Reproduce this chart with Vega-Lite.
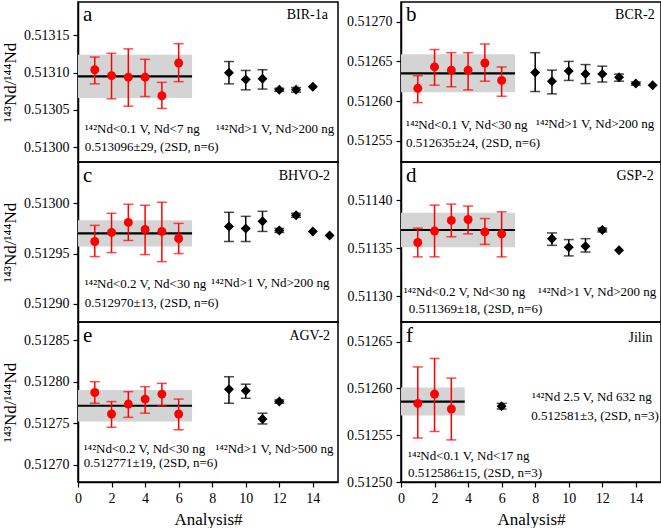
{
  "$schema": "https://vega.github.io/schema/vega-lite/v6.json",
  "padding": {"left": 0, "top": 1, "right": 1, "bottom": 2},
  "autosize": {"type": "pad"},
  "bounds": "flush",
  "columns": 2,
  "spacing": {"row": 0, "column": 63},
  "datasets": {
    "pts": [
      {"panel": "a", "group": "low", "analysis": 1, "value": 0.513104, "lo": 0.513085, "hi": 0.513121},
      {"panel": "a", "group": "low", "analysis": 2, "value": 0.513096, "lo": 0.513065, "hi": 0.513126},
      {"panel": "a", "group": "low", "analysis": 3, "value": 0.513094, "lo": 0.513055, "hi": 0.513132},
      {"panel": "a", "group": "low", "analysis": 4, "value": 0.513094, "lo": 0.513068, "hi": 0.513118},
      {"panel": "a", "group": "low", "analysis": 5, "value": 0.513069, "lo": 0.513052, "hi": 0.513087},
      {"panel": "a", "group": "low", "analysis": 6, "value": 0.513113, "lo": 0.513088, "hi": 0.513139},
      {"panel": "a", "group": "high", "analysis": 9, "value": 0.5131, "lo": 0.513085, "hi": 0.513115},
      {"panel": "a", "group": "high", "analysis": 10, "value": 0.513091, "lo": 0.513077, "hi": 0.513103},
      {"panel": "a", "group": "high", "analysis": 11, "value": 0.513092, "lo": 0.513078, "hi": 0.513104},
      {"panel": "a", "group": "high", "analysis": 12, "value": 0.513077, "lo": 0.513075, "hi": 0.513079},
      {"panel": "a", "group": "high", "analysis": 13, "value": 0.513077, "lo": 0.513074, "hi": 0.51308},
      {"panel": "a", "group": "high", "analysis": 14, "value": 0.513081, "lo": null, "hi": null},
      {"panel": "b", "group": "low", "analysis": 1, "value": 0.512616, "lo": 0.512598, "hi": 0.512632},
      {"panel": "b", "group": "low", "analysis": 2, "value": 0.512643, "lo": 0.51262, "hi": 0.512665},
      {"panel": "b", "group": "low", "analysis": 3, "value": 0.512639, "lo": 0.512618, "hi": 0.512661},
      {"panel": "b", "group": "low", "analysis": 4, "value": 0.512639, "lo": 0.512614, "hi": 0.512661},
      {"panel": "b", "group": "low", "analysis": 5, "value": 0.512648, "lo": 0.512625, "hi": 0.512672},
      {"panel": "b", "group": "low", "analysis": 6, "value": 0.512626, "lo": 0.512606, "hi": 0.512643},
      {"panel": "b", "group": "high", "analysis": 8, "value": 0.512636, "lo": 0.512612, "hi": 0.512661},
      {"panel": "b", "group": "high", "analysis": 9, "value": 0.512625, "lo": 0.512609, "hi": 0.512639},
      {"panel": "b", "group": "high", "analysis": 10, "value": 0.512638, "lo": 0.512626, "hi": 0.51265},
      {"panel": "b", "group": "high", "analysis": 11, "value": 0.512634, "lo": 0.512622, "hi": 0.512646},
      {"panel": "b", "group": "high", "analysis": 12, "value": 0.512634, "lo": 0.512624, "hi": 0.512644},
      {"panel": "b", "group": "high", "analysis": 13, "value": 0.51263, "lo": 0.512625, "hi": 0.512634},
      {"panel": "b", "group": "high", "analysis": 14, "value": 0.512622, "lo": 0.51262, "hi": 0.512624},
      {"panel": "b", "group": "high", "analysis": 15, "value": 0.51262, "lo": null, "hi": null},
      {"panel": "c", "group": "low", "analysis": 1, "value": 0.512962, "lo": 0.512947, "hi": 0.512978},
      {"panel": "c", "group": "low", "analysis": 2, "value": 0.512971, "lo": 0.512951, "hi": 0.51299},
      {"panel": "c", "group": "low", "analysis": 3, "value": 0.512981, "lo": 0.512963, "hi": 0.512999},
      {"panel": "c", "group": "low", "analysis": 4, "value": 0.512974, "lo": 0.512949, "hi": 0.512998},
      {"panel": "c", "group": "low", "analysis": 5, "value": 0.512972, "lo": 0.512942, "hi": 0.513001},
      {"panel": "c", "group": "low", "analysis": 6, "value": 0.512965, "lo": 0.51295, "hi": 0.51298},
      {"panel": "c", "group": "high", "analysis": 9, "value": 0.512977, "lo": 0.512962, "hi": 0.512991},
      {"panel": "c", "group": "high", "analysis": 10, "value": 0.512975, "lo": 0.512962, "hi": 0.512987},
      {"panel": "c", "group": "high", "analysis": 11, "value": 0.512982, "lo": 0.512972, "hi": 0.512992},
      {"panel": "c", "group": "high", "analysis": 12, "value": 0.512973, "lo": 0.512971, "hi": 0.512975},
      {"panel": "c", "group": "high", "analysis": 13, "value": 0.512988, "lo": 0.512986, "hi": 0.51299},
      {"panel": "c", "group": "high", "analysis": 14, "value": 0.512972, "lo": null, "hi": null},
      {"panel": "c", "group": "high", "analysis": 15, "value": 0.512968, "lo": null, "hi": null},
      {"panel": "d", "group": "low", "analysis": 1, "value": 0.511356, "lo": 0.511341, "hi": 0.511371},
      {"panel": "d", "group": "low", "analysis": 2, "value": 0.511368, "lo": 0.511341, "hi": 0.511395},
      {"panel": "d", "group": "low", "analysis": 3, "value": 0.511379, "lo": 0.511362, "hi": 0.511396},
      {"panel": "d", "group": "low", "analysis": 4, "value": 0.51138, "lo": 0.511365, "hi": 0.511394},
      {"panel": "d", "group": "low", "analysis": 5, "value": 0.511367, "lo": 0.511354, "hi": 0.511381},
      {"panel": "d", "group": "low", "analysis": 6, "value": 0.511365, "lo": 0.511341, "hi": 0.511388},
      {"panel": "d", "group": "high", "analysis": 9, "value": 0.51136, "lo": 0.511353, "hi": 0.511366},
      {"panel": "d", "group": "high", "analysis": 10, "value": 0.511351, "lo": 0.511342, "hi": 0.511359},
      {"panel": "d", "group": "high", "analysis": 11, "value": 0.511352, "lo": 0.511346, "hi": 0.51136},
      {"panel": "d", "group": "high", "analysis": 12, "value": 0.511369, "lo": 0.511367, "hi": 0.511371},
      {"panel": "d", "group": "high", "analysis": 13, "value": 0.511348, "lo": null, "hi": null},
      {"panel": "e", "group": "low", "analysis": 1, "value": 0.512787, "lo": 0.512774, "hi": 0.5128},
      {"panel": "e", "group": "low", "analysis": 2, "value": 0.512761, "lo": 0.512745, "hi": 0.512776},
      {"panel": "e", "group": "low", "analysis": 3, "value": 0.512773, "lo": 0.512757, "hi": 0.512788},
      {"panel": "e", "group": "low", "analysis": 4, "value": 0.512779, "lo": 0.512762, "hi": 0.512794},
      {"panel": "e", "group": "low", "analysis": 5, "value": 0.512785, "lo": 0.512771, "hi": 0.512798},
      {"panel": "e", "group": "low", "analysis": 6, "value": 0.512761, "lo": 0.512742, "hi": 0.512779},
      {"panel": "e", "group": "high", "analysis": 9, "value": 0.512791, "lo": 0.512774, "hi": 0.512806},
      {"panel": "e", "group": "high", "analysis": 10, "value": 0.512789, "lo": 0.51278, "hi": 0.512797},
      {"panel": "e", "group": "high", "analysis": 11, "value": 0.512755, "lo": 0.512749, "hi": 0.512762},
      {"panel": "e", "group": "high", "analysis": 12, "value": 0.512776, "lo": 0.512774, "hi": 0.512778},
      {"panel": "f", "group": "low", "analysis": 1, "value": 0.512584, "lo": 0.512547, "hi": 0.512623},
      {"panel": "f", "group": "low", "analysis": 2, "value": 0.512594, "lo": 0.512554, "hi": 0.512632},
      {"panel": "f", "group": "low", "analysis": 3, "value": 0.512578, "lo": 0.512545, "hi": 0.512611},
      {"panel": "f", "group": "high", "analysis": 6, "value": 0.512581, "lo": 0.512578, "hi": 0.512584}
    ],
    "stats": [
      {"panel": "a", "x0": 0, "x1": 6.8, "mean": 0.513095, "lo": 0.513066, "hi": 0.513124},
      {"panel": "b", "x0": 0, "x1": 6.8, "mean": 0.512635, "lo": 0.512611, "hi": 0.512659},
      {"panel": "c", "x0": 0, "x1": 6.8, "mean": 0.51297, "lo": 0.512957, "hi": 0.512983},
      {"panel": "d", "x0": 0, "x1": 6.8, "mean": 0.511369, "lo": 0.511351, "hi": 0.511387},
      {"panel": "e", "x0": 0, "x1": 6.8, "mean": 0.512771, "lo": 0.512752, "hi": 0.51279},
      {"panel": "f", "x0": 0, "x1": 3.8, "mean": 0.512586, "lo": 0.512571, "hi": 0.512601}
    ]
  },
  "concat": [
    {
      "width": 260, "height": 160,
      "layer": [
        {"data": {"name": "stats"}, "transform": [{"filter": "datum.panel == 'a'"}],
         "mark": {"type": "rect", "color": "#d4d4d4"},
         "encoding": {
           "x": {"field": "x0", "type": "quantitative", "scale": {"domain": [0, 15.5], "nice": false, "zero": false}, "axis": null},
           "x2": {"field": "x1"},
           "y": {"field": "lo", "type": "quantitative", "title": "¹⁴³Nd/¹⁴⁴Nd", "scale": {"domain": [0.51298, 0.513195], "nice": false, "zero": false}, "axis": {"values": [0.513, 0.51305, 0.5131, 0.51315], "format": ".5f"}},
           "y2": {"field": "hi"}}},
        {"data": {"name": "stats"}, "transform": [{"filter": "datum.panel == 'a'"}],
         "mark": {"type": "rule", "color": "black", "strokeWidth": 2.2},
         "encoding": {"x": {"field": "x0", "type": "quantitative"}, "x2": {"field": "x1"}, "y": {"field": "mean", "type": "quantitative", "title": "¹⁴³Nd/¹⁴⁴Nd"}}},
        {"data": {"name": "pts"}, "transform": [{"filter": "datum.panel == 'a' && datum.group == 'low'"}],
         "mark": {"type": "errorbar", "color": "red", "thickness": 1.5, "ticks": {"size": 10}},
         "encoding": {"x": {"field": "analysis", "type": "quantitative"}, "y": {"field": "lo", "type": "quantitative", "title": "¹⁴³Nd/¹⁴⁴Nd"}, "y2": {"field": "hi"}}},
        {"data": {"name": "pts"}, "transform": [{"filter": "datum.panel == 'a' && datum.group == 'low'"}],
         "mark": {"type": "point", "shape": "circle", "filled": true, "color": "red", "size": 80, "opacity": 1},
         "encoding": {"x": {"field": "analysis", "type": "quantitative"}, "y": {"field": "value", "type": "quantitative", "title": "¹⁴³Nd/¹⁴⁴Nd"}}},
        {"data": {"name": "pts"}, "transform": [{"filter": "datum.panel == 'a' && datum.group == 'high' && isValid(datum.lo)"}],
         "mark": {"type": "errorbar", "color": "black", "thickness": 1.5, "ticks": {"size": 10}},
         "encoding": {"x": {"field": "analysis", "type": "quantitative"}, "y": {"field": "lo", "type": "quantitative", "title": "¹⁴³Nd/¹⁴⁴Nd"}, "y2": {"field": "hi"}}},
        {"data": {"name": "pts"}, "transform": [{"filter": "datum.panel == 'a' && datum.group == 'high'"}],
         "mark": {"type": "point", "shape": "diamond", "filled": true, "color": "black", "size": 100, "opacity": 1},
         "encoding": {"x": {"field": "analysis", "type": "quantitative"}, "y": {"field": "value", "type": "quantitative", "title": "¹⁴³Nd/¹⁴⁴Nd"}}},
        {"data": {"values": [{}]}, "mark": {"type": "text", "align": "left", "baseline": "middle", "fontSize": 21},
         "encoding": {"x": {"datum": 0.3}, "y": {"datum": 0.5131775}, "text": {"value": "a"}}},
        {"data": {"values": [{}]}, "mark": {"type": "text", "align": "right", "baseline": "middle", "fontSize": 14},
         "encoding": {"x": {"datum": 14.9}, "y": {"datum": 0.5131775}, "text": {"value": "BIR-1a"}}},
        {"data": {"values": [{}]}, "mark": {"type": "text", "align": "left", "baseline": "middle", "fontSize": 13},
         "encoding": {"x": {"datum": 0.4}, "y": {"datum": 0.513025}, "text": {"value": "¹⁴²Nd<0.1 V, Nd<7 ng"}}},
        {"data": {"values": [{}]}, "mark": {"type": "text", "align": "left", "baseline": "middle", "fontSize": 13},
         "encoding": {"x": {"datum": 0.4}, "y": {"datum": 0.5130006}, "text": {"value": "0.513096±29, (2SD, n=6)"}}},
        {"data": {"values": [{}]}, "mark": {"type": "text", "align": "left", "baseline": "middle", "fontSize": 13},
         "encoding": {"x": {"datum": 8.23}, "y": {"datum": 0.513025}, "text": {"value": "¹⁴²Nd>1 V, Nd>200 ng"}}}
      ]
    },
    {
      "width": 260, "height": 160,
      "layer": [
        {"data": {"name": "stats"}, "transform": [{"filter": "datum.panel == 'b'"}],
         "mark": {"type": "rect", "color": "#d4d4d4"},
         "encoding": {
           "x": {"field": "x0", "type": "quantitative", "scale": {"domain": [0, 15.5], "nice": false, "zero": false}, "axis": null},
           "x2": {"field": "x1"},
           "y": {"field": "lo", "type": "quantitative", "scale": {"domain": [0.512523, 0.512725], "nice": false, "zero": false}, "axis": {"values": [0.51255, 0.5126, 0.51265, 0.5127], "format": ".5f", "title": null}},
           "y2": {"field": "hi"}}},
        {"data": {"name": "stats"}, "transform": [{"filter": "datum.panel == 'b'"}],
         "mark": {"type": "rule", "color": "black", "strokeWidth": 2.2},
         "encoding": {"x": {"field": "x0", "type": "quantitative"}, "x2": {"field": "x1"}, "y": {"field": "mean", "type": "quantitative"}}},
        {"data": {"name": "pts"}, "transform": [{"filter": "datum.panel == 'b' && datum.group == 'low'"}],
         "mark": {"type": "errorbar", "color": "red", "thickness": 1.5, "ticks": {"size": 10}},
         "encoding": {"x": {"field": "analysis", "type": "quantitative"}, "y": {"field": "lo", "type": "quantitative"}, "y2": {"field": "hi"}}},
        {"data": {"name": "pts"}, "transform": [{"filter": "datum.panel == 'b' && datum.group == 'low'"}],
         "mark": {"type": "point", "shape": "circle", "filled": true, "color": "red", "size": 80, "opacity": 1},
         "encoding": {"x": {"field": "analysis", "type": "quantitative"}, "y": {"field": "value", "type": "quantitative"}}},
        {"data": {"name": "pts"}, "transform": [{"filter": "datum.panel == 'b' && datum.group == 'high' && isValid(datum.lo)"}],
         "mark": {"type": "errorbar", "color": "black", "thickness": 1.5, "ticks": {"size": 10}},
         "encoding": {"x": {"field": "analysis", "type": "quantitative"}, "y": {"field": "lo", "type": "quantitative"}, "y2": {"field": "hi"}}},
        {"data": {"name": "pts"}, "transform": [{"filter": "datum.panel == 'b' && datum.group == 'high'"}],
         "mark": {"type": "point", "shape": "diamond", "filled": true, "color": "black", "size": 100, "opacity": 1},
         "encoding": {"x": {"field": "analysis", "type": "quantitative"}, "y": {"field": "value", "type": "quantitative"}}},
        {"data": {"values": [{}]}, "mark": {"type": "text", "align": "left", "baseline": "middle", "fontSize": 21},
         "encoding": {"x": {"datum": 0.3}, "y": {"datum": 0.5127086}, "text": {"value": "b"}}},
        {"data": {"values": [{}]}, "mark": {"type": "text", "align": "right", "baseline": "middle", "fontSize": 14},
         "encoding": {"x": {"datum": 15.13}, "y": {"datum": 0.5127086}, "text": {"value": "BCR-2"}}},
        {"data": {"values": [{}]}, "mark": {"type": "text", "align": "left", "baseline": "middle", "fontSize": 13},
         "encoding": {"x": {"datum": 0.3}, "y": {"datum": 0.5125695}, "text": {"value": "¹⁴²Nd<0.1 V, Nd<30 ng"}}},
        {"data": {"values": [{}]}, "mark": {"type": "text", "align": "left", "baseline": "middle", "fontSize": 13},
         "encoding": {"x": {"datum": 0.3}, "y": {"datum": 0.5125466}, "text": {"value": "0.512635±24, (2SD, n=6)"}}},
        {"data": {"values": [{}]}, "mark": {"type": "text", "align": "left", "baseline": "middle", "fontSize": 13},
         "encoding": {"x": {"datum": 8.05}, "y": {"datum": 0.5125705}, "text": {"value": "¹⁴²Nd>1 V, Nd>200 ng"}}}
      ]
    },
    {
      "width": 260, "height": 160,
      "layer": [
        {"data": {"name": "stats"}, "transform": [{"filter": "datum.panel == 'c'"}],
         "mark": {"type": "rect", "color": "#d4d4d4"},
         "encoding": {
           "x": {"field": "x0", "type": "quantitative", "scale": {"domain": [0, 15.5], "nice": false, "zero": false}, "axis": null},
           "x2": {"field": "x1"},
           "y": {"field": "lo", "type": "quantitative", "title": "¹⁴³Nd/¹⁴⁴Nd", "scale": {"domain": [0.512882, 0.513041], "nice": false, "zero": false}, "axis": {"values": [0.5129, 0.51295, 0.513], "format": ".5f"}},
           "y2": {"field": "hi"}}},
        {"data": {"name": "stats"}, "transform": [{"filter": "datum.panel == 'c'"}],
         "mark": {"type": "rule", "color": "black", "strokeWidth": 2.2},
         "encoding": {"x": {"field": "x0", "type": "quantitative"}, "x2": {"field": "x1"}, "y": {"field": "mean", "type": "quantitative", "title": "¹⁴³Nd/¹⁴⁴Nd"}}},
        {"data": {"name": "pts"}, "transform": [{"filter": "datum.panel == 'c' && datum.group == 'low'"}],
         "mark": {"type": "errorbar", "color": "red", "thickness": 1.5, "ticks": {"size": 10}},
         "encoding": {"x": {"field": "analysis", "type": "quantitative"}, "y": {"field": "lo", "type": "quantitative", "title": "¹⁴³Nd/¹⁴⁴Nd"}, "y2": {"field": "hi"}}},
        {"data": {"name": "pts"}, "transform": [{"filter": "datum.panel == 'c' && datum.group == 'low'"}],
         "mark": {"type": "point", "shape": "circle", "filled": true, "color": "red", "size": 80, "opacity": 1},
         "encoding": {"x": {"field": "analysis", "type": "quantitative"}, "y": {"field": "value", "type": "quantitative", "title": "¹⁴³Nd/¹⁴⁴Nd"}}},
        {"data": {"name": "pts"}, "transform": [{"filter": "datum.panel == 'c' && datum.group == 'high' && isValid(datum.lo)"}],
         "mark": {"type": "errorbar", "color": "black", "thickness": 1.5, "ticks": {"size": 10}},
         "encoding": {"x": {"field": "analysis", "type": "quantitative"}, "y": {"field": "lo", "type": "quantitative", "title": "¹⁴³Nd/¹⁴⁴Nd"}, "y2": {"field": "hi"}}},
        {"data": {"name": "pts"}, "transform": [{"filter": "datum.panel == 'c' && datum.group == 'high'"}],
         "mark": {"type": "point", "shape": "diamond", "filled": true, "color": "black", "size": 100, "opacity": 1},
         "encoding": {"x": {"field": "analysis", "type": "quantitative"}, "y": {"field": "value", "type": "quantitative", "title": "¹⁴³Nd/¹⁴⁴Nd"}}},
        {"data": {"values": [{}]}, "mark": {"type": "text", "align": "left", "baseline": "middle", "fontSize": 21},
         "encoding": {"x": {"datum": 0.3}, "y": {"datum": 0.5130271}, "text": {"value": "c"}}},
        {"data": {"values": [{}]}, "mark": {"type": "text", "align": "right", "baseline": "middle", "fontSize": 14},
         "encoding": {"x": {"datum": 15.03}, "y": {"datum": 0.5130271}, "text": {"value": "BHVO-2"}}},
        {"data": {"values": [{}]}, "mark": {"type": "text", "align": "left", "baseline": "middle", "fontSize": 13},
         "encoding": {"x": {"datum": 0.4}, "y": {"datum": 0.5129195}, "text": {"value": "¹⁴²Nd<0.2 V, Nd<30 ng"}}},
        {"data": {"values": [{}]}, "mark": {"type": "text", "align": "left", "baseline": "middle", "fontSize": 13},
         "encoding": {"x": {"datum": 0.4}, "y": {"datum": 0.5129012}, "text": {"value": "0.512970±13, (2SD, n=6)"}}},
        {"data": {"values": [{}]}, "mark": {"type": "text", "align": "left", "baseline": "middle", "fontSize": 13},
         "encoding": {"x": {"datum": 7.95}, "y": {"datum": 0.5129205}, "text": {"value": "¹⁴²Nd>1 V, Nd>200 ng"}}}
      ]
    },
    {
      "width": 260, "height": 160,
      "layer": [
        {"data": {"name": "stats"}, "transform": [{"filter": "datum.panel == 'd'"}],
         "mark": {"type": "rect", "color": "#d4d4d4"},
         "encoding": {
           "x": {"field": "x0", "type": "quantitative", "scale": {"domain": [0, 15.5], "nice": false, "zero": false}, "axis": null},
           "x2": {"field": "x1"},
           "y": {"field": "lo", "type": "quantitative", "scale": {"domain": [0.511273, 0.51144], "nice": false, "zero": false}, "axis": {"values": [0.5113, 0.51135, 0.5114], "format": ".5f", "title": null}},
           "y2": {"field": "hi"}}},
        {"data": {"name": "stats"}, "transform": [{"filter": "datum.panel == 'd'"}],
         "mark": {"type": "rule", "color": "black", "strokeWidth": 2.2},
         "encoding": {"x": {"field": "x0", "type": "quantitative"}, "x2": {"field": "x1"}, "y": {"field": "mean", "type": "quantitative"}}},
        {"data": {"name": "pts"}, "transform": [{"filter": "datum.panel == 'd' && datum.group == 'low'"}],
         "mark": {"type": "errorbar", "color": "red", "thickness": 1.5, "ticks": {"size": 10}},
         "encoding": {"x": {"field": "analysis", "type": "quantitative"}, "y": {"field": "lo", "type": "quantitative"}, "y2": {"field": "hi"}}},
        {"data": {"name": "pts"}, "transform": [{"filter": "datum.panel == 'd' && datum.group == 'low'"}],
         "mark": {"type": "point", "shape": "circle", "filled": true, "color": "red", "size": 80, "opacity": 1},
         "encoding": {"x": {"field": "analysis", "type": "quantitative"}, "y": {"field": "value", "type": "quantitative"}}},
        {"data": {"name": "pts"}, "transform": [{"filter": "datum.panel == 'd' && datum.group == 'high' && isValid(datum.lo)"}],
         "mark": {"type": "errorbar", "color": "black", "thickness": 1.5, "ticks": {"size": 10}},
         "encoding": {"x": {"field": "analysis", "type": "quantitative"}, "y": {"field": "lo", "type": "quantitative"}, "y2": {"field": "hi"}}},
        {"data": {"name": "pts"}, "transform": [{"filter": "datum.panel == 'd' && datum.group == 'high'"}],
         "mark": {"type": "point", "shape": "diamond", "filled": true, "color": "black", "size": 100, "opacity": 1},
         "encoding": {"x": {"field": "analysis", "type": "quantitative"}, "y": {"field": "value", "type": "quantitative"}}},
        {"data": {"values": [{}]}, "mark": {"type": "text", "align": "left", "baseline": "middle", "fontSize": 21},
         "encoding": {"x": {"datum": 0.3}, "y": {"datum": 0.5114254}, "text": {"value": "d"}}},
        {"data": {"values": [{}]}, "mark": {"type": "text", "align": "right", "baseline": "middle", "fontSize": 14},
         "encoding": {"x": {"datum": 15.07}, "y": {"datum": 0.5114254}, "text": {"value": "GSP-2"}}},
        {"data": {"values": [{}]}, "mark": {"type": "text", "align": "left", "baseline": "middle", "fontSize": 13},
         "encoding": {"x": {"datum": 0.16}, "y": {"datum": 0.5113043}, "text": {"value": "¹⁴²Nd<0.2 V, Nd<30 ng"}}},
        {"data": {"values": [{}]}, "mark": {"type": "text", "align": "left", "baseline": "middle", "fontSize": 13},
         "encoding": {"x": {"datum": 0.46}, "y": {"datum": 0.5112863}, "text": {"value": "0.511369±18, (2SD, n=6)"}}},
        {"data": {"values": [{}]}, "mark": {"type": "text", "align": "left", "baseline": "middle", "fontSize": 13},
         "encoding": {"x": {"datum": 8.17}, "y": {"datum": 0.5113043}, "text": {"value": "¹⁴²Nd>1 V, Nd>200 ng"}}}
      ]
    },
    {
      "width": 260, "height": 160,
      "layer": [
        {"data": {"name": "stats"}, "transform": [{"filter": "datum.panel == 'e'"}],
         "mark": {"type": "rect", "color": "#d4d4d4"},
         "encoding": {
           "x": {"field": "x0", "type": "quantitative", "title": "Analysis#", "scale": {"domain": [0, 15.5], "nice": false, "zero": false}, "axis": {"values": [0, 2, 4, 6, 8, 10, 12, 14], "tickCount": 8, "labelOverlap": false, "labelFlush": false, "labelBound": false, "labelFontSize": 14}},
           "x2": {"field": "x1"},
           "y": {"field": "lo", "type": "quantitative", "title": "¹⁴³Nd/¹⁴⁴Nd", "scale": {"domain": [0.512679, 0.512872], "nice": false, "zero": false}, "axis": {"values": [0.5127, 0.51275, 0.5128, 0.51285], "format": ".5f"}},
           "y2": {"field": "hi"}}},
        {"data": {"name": "stats"}, "transform": [{"filter": "datum.panel == 'e'"}],
         "mark": {"type": "rule", "color": "black", "strokeWidth": 2.2},
         "encoding": {"x": {"field": "x0", "type": "quantitative", "title": "Analysis#"}, "x2": {"field": "x1"}, "y": {"field": "mean", "type": "quantitative", "title": "¹⁴³Nd/¹⁴⁴Nd"}}},
        {"data": {"name": "pts"}, "transform": [{"filter": "datum.panel == 'e' && datum.group == 'low'"}],
         "mark": {"type": "errorbar", "color": "red", "thickness": 1.5, "ticks": {"size": 10}},
         "encoding": {"x": {"field": "analysis", "type": "quantitative", "title": "Analysis#"}, "y": {"field": "lo", "type": "quantitative", "title": "¹⁴³Nd/¹⁴⁴Nd"}, "y2": {"field": "hi"}}},
        {"data": {"name": "pts"}, "transform": [{"filter": "datum.panel == 'e' && datum.group == 'low'"}],
         "mark": {"type": "point", "shape": "circle", "filled": true, "color": "red", "size": 80, "opacity": 1},
         "encoding": {"x": {"field": "analysis", "type": "quantitative", "title": "Analysis#"}, "y": {"field": "value", "type": "quantitative", "title": "¹⁴³Nd/¹⁴⁴Nd"}}},
        {"data": {"name": "pts"}, "transform": [{"filter": "datum.panel == 'e' && datum.group == 'high' && isValid(datum.lo)"}],
         "mark": {"type": "errorbar", "color": "black", "thickness": 1.5, "ticks": {"size": 10}},
         "encoding": {"x": {"field": "analysis", "type": "quantitative", "title": "Analysis#"}, "y": {"field": "lo", "type": "quantitative", "title": "¹⁴³Nd/¹⁴⁴Nd"}, "y2": {"field": "hi"}}},
        {"data": {"name": "pts"}, "transform": [{"filter": "datum.panel == 'e' && datum.group == 'high'"}],
         "mark": {"type": "point", "shape": "diamond", "filled": true, "color": "black", "size": 100, "opacity": 1},
         "encoding": {"x": {"field": "analysis", "type": "quantitative", "title": "Analysis#"}, "y": {"field": "value", "type": "quantitative", "title": "¹⁴³Nd/¹⁴⁴Nd"}}},
        {"data": {"values": [{}]}, "mark": {"type": "text", "align": "left", "baseline": "middle", "fontSize": 21},
         "encoding": {"x": {"datum": 0.3, "title": "Analysis#"}, "y": {"datum": 0.5128551, "title": "¹⁴³Nd/¹⁴⁴Nd"}, "text": {"value": "e"}}},
        {"data": {"values": [{}]}, "mark": {"type": "text", "align": "right", "baseline": "middle", "fontSize": 14},
         "encoding": {"x": {"datum": 15.03, "title": "Analysis#"}, "y": {"datum": 0.5128551, "title": "¹⁴³Nd/¹⁴⁴Nd"}, "text": {"value": "AGV-2"}}},
        {"data": {"values": [{}]}, "mark": {"type": "text", "align": "left", "baseline": "middle", "fontSize": 13},
         "encoding": {"x": {"datum": 0.34, "title": "Analysis#"}, "y": {"datum": 0.5127184, "title": "¹⁴³Nd/¹⁴⁴Nd"}, "text": {"value": "¹⁴²Nd<0.2 V, Nd<30 ng"}}},
        {"data": {"values": [{}]}, "mark": {"type": "text", "align": "left", "baseline": "middle", "fontSize": 13},
         "encoding": {"x": {"datum": 0.34, "title": "Analysis#"}, "y": {"datum": 0.5127015, "title": "¹⁴³Nd/¹⁴⁴Nd"}, "text": {"value": "0.512771±19, (2SD, n=6)"}}},
        {"data": {"values": [{}]}, "mark": {"type": "text", "align": "left", "baseline": "middle", "fontSize": 13},
         "encoding": {"x": {"datum": 8.19, "title": "Analysis#"}, "y": {"datum": 0.5127184, "title": "¹⁴³Nd/¹⁴⁴Nd"}, "text": {"value": "¹⁴²Nd>1 V, Nd>500 ng"}}}
      ]
    },
    {
      "width": 260, "height": 160,
      "layer": [
        {"data": {"name": "stats"}, "transform": [{"filter": "datum.panel == 'f'"}],
         "mark": {"type": "rect", "color": "#d4d4d4"},
         "encoding": {
           "x": {"field": "x0", "type": "quantitative", "title": "Analysis#", "scale": {"domain": [0, 15.5], "nice": false, "zero": false}, "axis": {"values": [0, 2, 4, 6, 8, 10, 12, 14], "tickCount": 8, "labelOverlap": false, "labelFlush": false, "labelBound": false, "labelFontSize": 14}},
           "x2": {"field": "x1"},
           "y": {"field": "lo", "type": "quantitative", "scale": {"domain": [0.5125, 0.512671], "nice": false, "zero": false}, "axis": {"values": [0.5125, 0.51255, 0.5126, 0.51265], "format": ".5f", "title": null}},
           "y2": {"field": "hi"}}},
        {"data": {"name": "stats"}, "transform": [{"filter": "datum.panel == 'f'"}],
         "mark": {"type": "rule", "color": "black", "strokeWidth": 2.2},
         "encoding": {"x": {"field": "x0", "type": "quantitative", "title": "Analysis#"}, "x2": {"field": "x1"}, "y": {"field": "mean", "type": "quantitative"}}},
        {"data": {"name": "pts"}, "transform": [{"filter": "datum.panel == 'f' && datum.group == 'low'"}],
         "mark": {"type": "errorbar", "color": "red", "thickness": 1.5, "ticks": {"size": 10}},
         "encoding": {"x": {"field": "analysis", "type": "quantitative", "title": "Analysis#"}, "y": {"field": "lo", "type": "quantitative"}, "y2": {"field": "hi"}}},
        {"data": {"name": "pts"}, "transform": [{"filter": "datum.panel == 'f' && datum.group == 'low'"}],
         "mark": {"type": "point", "shape": "circle", "filled": true, "color": "red", "size": 80, "opacity": 1},
         "encoding": {"x": {"field": "analysis", "type": "quantitative", "title": "Analysis#"}, "y": {"field": "value", "type": "quantitative"}}},
        {"data": {"name": "pts"}, "transform": [{"filter": "datum.panel == 'f' && datum.group == 'high' && isValid(datum.lo)"}],
         "mark": {"type": "errorbar", "color": "black", "thickness": 1.5, "ticks": {"size": 10}},
         "encoding": {"x": {"field": "analysis", "type": "quantitative", "title": "Analysis#"}, "y": {"field": "lo", "type": "quantitative"}, "y2": {"field": "hi"}}},
        {"data": {"name": "pts"}, "transform": [{"filter": "datum.panel == 'f' && datum.group == 'high'"}],
         "mark": {"type": "point", "shape": "diamond", "filled": true, "color": "black", "size": 100, "opacity": 1},
         "encoding": {"x": {"field": "analysis", "type": "quantitative", "title": "Analysis#"}, "y": {"field": "value", "type": "quantitative"}}},
        {"data": {"values": [{}]}, "mark": {"type": "text", "align": "left", "baseline": "middle", "fontSize": 21},
         "encoding": {"x": {"datum": 0.3, "title": "Analysis#"}, "y": {"datum": 0.512656}, "text": {"value": "f"}}},
        {"data": {"values": [{}]}, "mark": {"type": "text", "align": "right", "baseline": "middle", "fontSize": 14},
         "encoding": {"x": {"datum": 15.0, "title": "Analysis#"}, "y": {"datum": 0.5126542}, "text": {"value": "Jilin"}}},
        {"data": {"values": [{}]}, "mark": {"type": "text", "align": "left", "baseline": "middle", "fontSize": 13},
         "encoding": {"x": {"datum": 0.42, "title": "Analysis#"}, "y": {"datum": 0.5125278}, "text": {"value": "¹⁴²Nd<0.1 V, Nd<17 ng"}}},
        {"data": {"values": [{}]}, "mark": {"type": "text", "align": "left", "baseline": "middle", "fontSize": 13},
         "encoding": {"x": {"datum": 0.42, "title": "Analysis#"}, "y": {"datum": 0.5125099}, "text": {"value": "0.512586±15, (2SD, n=3)"}}},
        {"data": {"values": [{}]}, "mark": {"type": "text", "align": "left", "baseline": "middle", "fontSize": 13},
         "encoding": {"x": {"datum": 7.81, "title": "Analysis#"}, "y": {"datum": 0.5125908}, "text": {"value": "¹⁴²Nd 2.5 V, Nd 632 ng"}}},
        {"data": {"values": [{}]}, "mark": {"type": "text", "align": "left", "baseline": "middle", "fontSize": 13},
         "encoding": {"x": {"datum": 7.77, "title": "Analysis#"}, "y": {"datum": 0.5125705}, "text": {"value": "0.512581±3, (2SD, n=3)"}}}
      ]
    }
  ],
  "config": {
    "font": "Liberation Serif",
    "view": {"stroke": "black", "strokeWidth": 1.5},
    "text": {"font": "Liberation Serif", "color": "black"},
    "axis": {
      "labelFont": "Liberation Serif", "labelFontSize": 14, "labelColor": "black", "labelPadding": 4,
      "titleFont": "Liberation Serif", "titleFontSize": 17, "titleFontWeight": "normal", "titleColor": "black",
      "domainColor": "black", "domainWidth": 1.5, "tickColor": "black", "tickWidth": 1.2, "tickSize": 5,
      "grid": false, "labelOverlap": false
    },
    "axisX": {"titlePadding": 6, "labelOverlap": false},
    "axisY": {"titlePadding": 4}
  }
}
